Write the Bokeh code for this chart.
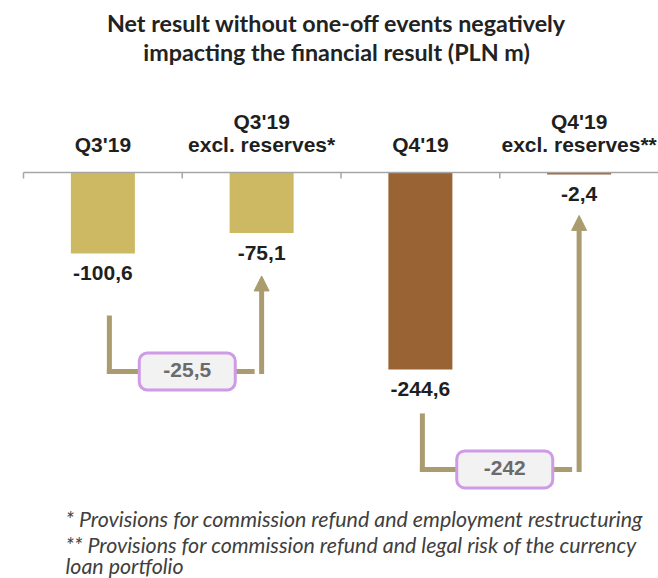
from bokeh.plotting import figure
from bokeh.models import Range1d, Label, Arrow, NormalHead, BoxAnnotation
from bokeh.core.properties import value
from bokeh.embed import file_html
from bokeh.resources import INLINE

# ---------------- data ----------------
CATEGORY_LINE1 = ["", "Q3'19", "", "Q4'19"]
CATEGORY_LINE2 = ["Q3'19", "excl. reserves*", "Q4'19", "excl. reserves**"]
VALUES = [-100.6, -75.1, -244.6, -2.4]
VALUE_LABELS = ["-100,6", "-75,1", "-244,6", "-2,4"]
BRIDGE_PAIRS = [(0, 1), (2, 3)]
BRIDGE_VALUES = [-25.5, -242.0]
BRIDGE_LABELS = ["-25,5", "-242"]
TITLE_LINES = ["Net result without one-off events negatively",
               "impacting the financial result (PLN m)"]
FOOTNOTES = ["* Provisions for commission refund and employment restructuring",
             "** Provisions for commission refund and legal risk of the currency",
             "loan portfolio"]

# ---------------- styles / layout ----------------
BAR_COLORS = ["#CDB964", "#CDB964", "#9A6333", "#9A6333"]
TAN = "#AB9C6F"
W, H = 658, 578
PX_PER_CAT = 158.75
AXIS_LEFT_PX = 23
BASE_PX = 172
PX_PER_UNIT = 0.805
FIX = 9  # baseline correction in px (text drawn higher by this amount)

def dx(px):
    return px / PX_PER_CAT

def dy(px):
    return px / PX_PER_UNIT

def sx(px):
    return (px - AXIS_LEFT_PX) / PX_PER_CAT

def sy(py):
    return (BASE_PX - py) / PX_PER_UNIT

p = figure(width=W, height=H, x_range=Range1d(sx(0), sx(W)), y_range=Range1d(sy(H), sy(0)),
           output_backend="svg", toolbar_location=None, min_border=0,
           x_axis_location=None, y_axis_location=None)
p.grid.visible = False
p.outline_line_color = None
p.background_fill_color = "white"
p.border_fill_color = "white"

n = len(VALUES)
centers = [i + 0.5 for i in range(n)]

# bars
p.vbar(x=centers, top=0, bottom=VALUES, width=dx(64), fill_color=BAR_COLORS, line_color=None)

# baseline + ticks
p.segment(x0=[0], y0=[0], x1=[sx(W)], y1=[0], line_color="#A6A6A6", line_width=1.5)
p.segment(x0=list(range(n)), y0=[0] * n, x1=list(range(n)), y1=[-dy(6)] * n,
          line_color="#A6A6A6", line_width=1.5)

FONT_ARIAL = value("Liberation Sans")

# category labels
p.text(x=centers, y=[dy(19 + FIX)] * n, text=CATEGORY_LINE2, text_align="center", text_baseline="alphabetic",
       text_font=FONT_ARIAL, text_font_style="bold", text_font_size="21px", text_color="#1F1F1F")
p.text(x=centers, y=[dy(42 + FIX)] * n, text=CATEGORY_LINE1, text_align="center", text_baseline="alphabetic",
       text_font=FONT_ARIAL, text_font_style="bold", text_font_size="21px", text_color="#1F1F1F")

# value labels
p.text(x=centers, y=[v - dy(29 - FIX) for v in VALUES], text=VALUE_LABELS, text_align="center",
       text_baseline="alphabetic", text_font=FONT_ARIAL, text_font_style="bold",
       text_font_size="21px", text_color="#1F1F1F")

# bridges
LEFT_DX = [6.5, 2.0]
START_GAP = [62, 44]
BASE_GAP = [118, 100]
TIP_GAP = [43, 41]
for k, (i, j) in enumerate(BRIDGE_PAIRS):
    xl = centers[i] + dx(LEFT_DX[k])
    xr = centers[j]
    y_start = VALUES[i] - dy(START_GAP[k])
    y_base = VALUES[i] - dy(BASE_GAP[k])
    y_tip = VALUES[j] - dy(TIP_GAP[k])
    p.segment(x0=[xl], y0=[y_start], x1=[xl], y1=[y_base - dy(2.5)], line_color=TAN, line_width=5)
    p.segment(x0=[xl - dx(2.5)], y0=[y_base], x1=[xr - dx(7)], y1=[y_base], line_color=TAN, line_width=5)
    p.add_layout(Arrow(x_start=xr, y_start=y_base - dy(2.5), x_end=xr, y_end=y_tip,
                       line_color=TAN, line_width=5,
                       end=NormalHead(size=15, fill_color=TAN, line_color=TAN, line_width=1)))
    xm = (centers[i] + centers[j]) / 2 + dx(5)
    p.add_layout(BoxAnnotation(left=xm - dx(48), right=xm + dx(48),
                               top=y_base + dy(18.5), bottom=y_base - dy(18.5),
                               border_radius=8, fill_color="#F2F2F2", fill_alpha=1,
                               line_color="#CF9AE6", line_alpha=1, line_width=3))
    p.add_layout(Label(x=xm, y=y_base - dy(7.5 - FIX), text=BRIDGE_LABELS[k], text_align="center",
                       text_baseline="alphabetic", text_font="Liberation Sans", text_font_style="bold",
                       text_font_size="21px", text_color="#6B6B6B"))

# title
for t, base in zip(TITLE_LINES, [31, 60]):
    p.add_layout(Label(x=sx(336), y=sy(base - FIX), text=t, text_align="center", text_baseline="alphabetic",
                       text_font="Lato", text_font_style="bold", text_font_size="23.3px",
                       text_color="#222222"))

# footnotes
for t, base in zip(FOOTNOTES, [527, 553, 574]):
    p.add_layout(Label(x=sx(65), y=sy(base - FIX), text=t, text_align="left", text_baseline="alphabetic",
                       text_font="Lato", text_font_style="italic", text_font_size="21.4px",
                       text_color="#404040"))

open("out.html", "w").write(file_html(p, INLINE))
